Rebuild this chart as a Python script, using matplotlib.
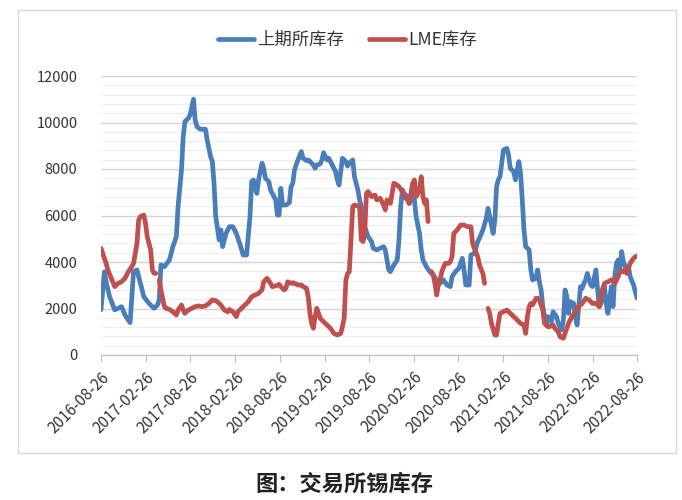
import matplotlib
matplotlib.use("Agg")
import matplotlib.pyplot as plt
from matplotlib.ticker import MultipleLocator
from matplotlib.patches import Rectangle
import numpy as np
import pandas as pd

plt.rcParams['font.family'] = ['Noto Sans CJK SC', 'DejaVu Sans']

start = pd.Timestamp("2016-08-26")
end = pd.Timestamp("2022-08-26")

# weeks since 2016-08-26, stock (tonnes)
shfe_week = [0, 2, 3, 5, 8, 10, 12, 14, 17, 18, 19, 21, 23, 25, 28, 31, 33, 34, 35, 37,
             40, 42, 44, 45, 47, 48, 49, 51, 52, 54, 55, 56, 58, 61, 62, 64, 65, 66, 67, 69,
             70, 71, 73, 75, 77, 79, 81, 83, 85, 87, 88, 89, 91, 92, 94, 95, 96, 98, 99, 101,
             102, 103, 104, 105, 106, 108, 110, 111, 112, 113, 115, 117, 118, 120, 121, 123, 124, 125, 126, 128,
             129, 130, 132, 133, 135, 137, 138, 139, 141, 143, 144, 145, 147, 148, 150, 151, 153, 154, 156, 158,
             159, 161, 163, 165, 166, 168, 169, 171, 173, 174, 175, 176, 177, 179, 180, 182, 183, 184, 186, 187,
             188, 190, 192, 194, 196, 198, 200, 202, 204, 205, 207, 209, 211, 212, 213, 215, 216, 218, 220, 221,
             223, 225, 226, 227, 229, 230, 231, 232, 233, 235, 237, 238, 239, 241, 242, 244, 245, 246, 247, 248,
             250, 251, 252, 254, 255, 256, 257, 258, 259, 260, 261, 263, 264, 266, 267, 269, 270, 271, 272, 273,
             274, 276, 277, 278, 280, 281, 282, 283, 284, 286, 287, 289, 290, 291, 292, 293, 294, 295, 296, 297,
             298, 299, 300, 301, 302, 303, 304, 305, 307, 308, 309, 311, 313]
shfe_stock = [1950, 3580, 3150, 2510, 1940, 2010, 2080, 1720, 1390, 2510, 3580, 3660, 3080, 2510, 2220, 2010, 2150, 2370, 3870, 3800,
              4090, 4660, 5090, 6380, 7960, 9390, 10040, 10180, 10320, 11000, 10110, 9820, 9710, 9710, 9250, 8530, 8320, 7390, 5950, 4950,
              5380, 4660, 5230, 5520, 5520, 5230, 4800, 4300, 4300, 5950, 7460, 7530, 6950, 7530, 8250, 8030, 7600, 7460, 7100, 6810,
              6670, 6020, 6020, 7170, 6450, 6450, 6550, 7240, 7390, 7960, 8390, 8750, 8460, 8360, 8390, 8250, 8170, 8030, 8170, 8220,
              8390, 8700, 8390, 8460, 8170, 7890, 7530, 7310, 8460, 8320, 8130, 8250, 8390, 7670, 7100, 6670, 6090, 5500, 5090, 4880,
              4590, 4520, 4590, 4660, 4520, 3660, 3585, 3870, 4090, 4950, 6380, 7100, 6950, 6810, 6520, 6950, 6670, 5950, 5230, 4520,
              4090, 3800, 3585, 3440, 3230, 3080, 3230, 3010, 2940, 3370, 3585, 3730, 4160, 3660, 3010, 3010, 4300, 4370, 4880, 5020,
              5380, 5880, 6310, 5950, 5230, 5810, 7240, 7530, 7670, 8820, 8890, 8600, 8030, 7890, 7530, 8320, 7820, 6670, 5380, 4660,
              4520, 3660, 3230, 3300, 3660, 3150, 2800, 2080, 1650, 1290, 1650, 1430, 1860, 1650, 1360, 1080, 1510, 2800, 2510, 1790,
              2290, 2220, 1650, 1290, 2940, 2870, 3080, 3230, 3510, 3010, 2940, 3660, 2800, 2080, 2220, 2800, 2940, 2220, 1790, 2370,
              2940, 2080, 3370, 3940, 4090, 3660, 4450, 4020, 3660, 3800, 3370, 3010, 2450]

nan = np.nan
lme_week = [0, 1, 3, 4, 6, 8, 10, 12, 14, 16, 18, 19, 21, 22, 23, 25, 26, 27, 29, 30,
            31, 32, 33, 34, 35, 36, 37, 38, 40, 42, 44, 45, 47, 48, 49, 51, 53, 55, 57, 59,
            61, 63, 65, 67, 68, 70, 72, 74, 75, 77, 79, 80, 82, 84, 86, 88, 90, 92, 94, 95,
            97, 99, 100, 102, 104, 105, 107, 108, 109, 111, 112, 114, 115, 117, 118, 120, 121, 122, 123, 124,
            125, 126, 127, 128, 130, 132, 134, 136, 138, 140, 141, 142, 143, 144, 145, 146, 147, 148, 150, 151,
            152, 153, 154, 155, 156, 158, 160, 161, 163, 165, 166, 167, 169, 171, 173, 174, 176, 177, 179, 180,
            182, 183, 184, 186, 187, 188, 189, 190, 191, 192, 193, 194, 195, 196, 197, 198, 199, 201, 203, 204,
            205, 206, 208, 210, 212, 214, 216, 217, 218, 220, 221, 223, 224, 225, 226, 227, 228, 230, 231, 232,
            233, 235, 237, 239, 241, 243, 245, 247, 248, 249, 250, 251, 252, 254, 255, 256, 258, 259, 261, 262,
            264, 265, 267, 268, 270, 271, 273, 275, 277, 279, 281, 283, 285, 287, 289, 291, 292, 293, 294, 296,
            298, 300, 302, 303, 305, 306, 307, 309, 311, 312, 313]
lme_stock = [4590, 4370, 3940, 3660, 3300, 2940, 3080, 3150, 3300, 3585, 3800, 3940, 4800, 5810, 5950, 6020, 5660, 5090, 4520, 3660,
             3510, 3510, nan, 3230, 2800, 2440, 2080, 2008, 1960, 1860, 1720, 1935, 2150, 1935, 1790, 1935, 2008, 2080, 2110, 2080,
             2110, 2220, 2370, 2340, 2290, 2150, 1935, 1860, 1960, 1860, 1650, 1860, 2008, 2150, 2290, 2510, 2580, 2650, 2800, 3150,
             3300, 3080, 2940, 2970, 3040, 2940, 2800, 2870, 3150, 3080, 3110, 3050, 3010, 3010, 2940, 2870, 2510, 1790, 1360, 1150,
             1650, 2008, 1790, 1580, 1430, 1290, 1150, 930, 860, 930, 1220, 1580, 3230, 3510, 3585, 4950, 6380, 6450, 6410, 6380,
             4950, 4880, 5230, 6950, 7030, 6810, 6880, 6670, 6740, 6450, 6240, 6670, 6520, 7390, 7310, 7240, 7030, 6810, 6670, 6520,
             7390, 7530, 6810, 7100, 7670, 6810, 6520, 6670, 5740, nan, 3585, 3440, 3080, 2580, 3010, 3230, 3585, 3940, 3940, 4020,
             4230, 5230, 5380, 5590, 5590, 5520, 5520, 4800, 4590, 4230, 3870, 3510, 3080, nan, 2008, 1790, 1360, 860, 860, 1360,
             1790, 1860, 1935, 1790, 1650, 1510, 1360, 1290, 930, 1650, 2080, 2220, 2150, 2440, 2440, 2370, 1935, 1360, 1220, 1220,
             1290, 1150, 1000, 790, 720, 930, 1360, 1650, 1860, 2080, 2220, 2440, 2370, 2220, 2220, 2080, 2510, 2870, 3080, 3150,
             3230, 3080, 3370, 3585, 3585, 3660, 3510, 3940, 4160, 4230, 4250]

assert len(shfe_week) == len(shfe_stock)
assert len(lme_week) == len(lme_stock)

shfe_dates = start + pd.to_timedelta(np.array(shfe_week) * 7, unit="D")
lme_dates = start + pd.to_timedelta(np.array(lme_week) * 7, unit="D")
tick_dates = pd.date_range(start, end, freq=pd.DateOffset(months=6))

blue = "#4a7ebb"
red = "#c0504d"

fig = plt.figure(figsize=(6.82, 5.0), dpi=100)
fig.patches.append(Rectangle((18 / 682, 1 - 453 / 500), 658 / 682, 443 / 500,
                             transform=fig.transFigure, fill=False,
                             edgecolor="#d9d9d9", linewidth=1.0))

ax = fig.add_axes([101 / 682, 1 - 355 / 500, 536 / 682, 279 / 500])
ax.plot(shfe_dates, shfe_stock, color=blue, lw=3.4, label="上期所库存",
        solid_capstyle="round", solid_joinstyle="round")
ax.plot(lme_dates, lme_stock, color=red, lw=3.4, label="LME库存",
        solid_capstyle="round", solid_joinstyle="round")

ax.set_xlim(start, end)
ax.set_ylim(0, 12000)
ax.yaxis.set_major_locator(MultipleLocator(2000))
ax.yaxis.set_minor_locator(MultipleLocator(400))
ax.grid(which="major", axis="y", color="#d4d4d4", lw=1.0)
ax.grid(which="minor", axis="y", color="#ededed", lw=0.8)
ax.set_axisbelow(True)

ax.set_xticks(tick_dates)
ax.set_xticklabels([d.strftime("%Y-%m-%d") for d in tick_dates], rotation=45,
                   ha="right", rotation_mode="anchor", fontsize=11, color="#333333")
ax.tick_params(axis="x", length=5, color="#bfbfbf", pad=5)
ax.tick_params(axis="y", which="both", length=0, pad=17, labelsize=10.5, labelcolor="#333333")

for s in ["top", "right", "left"]:
    ax.spines[s].set_visible(False)
ax.spines["bottom"].set_color("#bfbfbf")

fig.legend(loc="center", bbox_to_anchor=(347 / 682, 1 - 40 / 500), ncol=2,
           frameon=False, fontsize=12.5, handlelength=2.1, columnspacing=1.45,
           handletextpad=0.15, labelcolor="#333333")

fig.text(344 / 682, 1 - 484 / 500, "图：交易所锡库存", ha="center", va="center",
         fontsize=16, fontweight="bold", color="#222222")

plt.savefig("out.png", dpi=100)
plt.close()
